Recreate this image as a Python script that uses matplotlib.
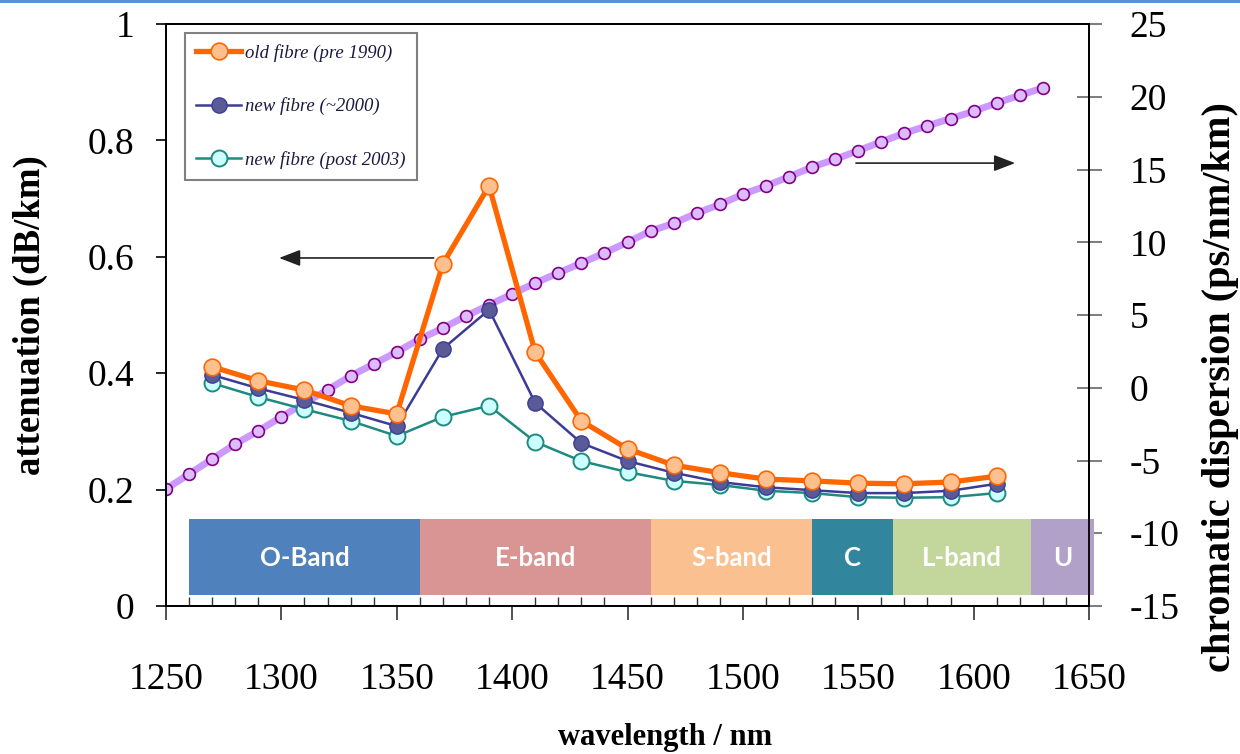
import matplotlib
matplotlib.use('Agg')
import matplotlib.pyplot as plt
from matplotlib.patches import Rectangle
from matplotlib.ticker import MultipleLocator

plt.rcParams['axes.unicode_minus'] = False

# attenuation data (dB/km), every 20 nm
att_wl = [1270, 1290, 1310, 1330, 1350, 1370, 1390, 1410, 1430,
          1450, 1470, 1490, 1510, 1530, 1550, 1570, 1590, 1610]
old_fibre = [0.411, 0.387, 0.371, 0.344, 0.330, 0.588, 0.722, 0.436, 0.318,
             0.270, 0.242, 0.229, 0.218, 0.215, 0.211, 0.210, 0.213, 0.223]
new_fibre_2000 = [0.397, 0.374, 0.354, 0.332, 0.309, 0.442, 0.509, 0.349, 0.280,
                  0.249, 0.229, 0.213, 0.204, 0.199, 0.194, 0.194, 0.198, 0.210]
new_fibre_2003 = [0.383, 0.359, 0.338, 0.318, 0.292, 0.325, 0.344, 0.282, 0.249,
                  0.230, 0.215, 0.208, 0.198, 0.194, 0.187, 0.186, 0.187, 0.194]

# chromatic dispersion (ps/nm/km), every 10 nm
disp_wl = [1250, 1260, 1270, 1280, 1290, 1300, 1310, 1320, 1330, 1340,
           1350, 1360, 1370, 1380, 1390, 1400, 1410, 1420, 1430, 1440,
           1450, 1460, 1470, 1480, 1490, 1500, 1510, 1520, 1530, 1540,
           1550, 1560, 1570, 1580, 1590, 1600, 1610, 1620, 1630]
dispersion = [-6.96, -5.93, -4.90, -3.87, -2.97, -2.00, -1.05, -0.15, 0.81, 1.63,
              2.46, 3.35, 4.10, 4.93, 5.69, 6.44, 7.20, 7.89, 8.57, 9.26,
              10.00, 10.77, 11.30, 12.00, 12.60, 13.30, 13.87, 14.50, 15.17, 15.70,
              16.30, 16.90, 17.50, 18.00, 18.50, 19.00, 19.57, 20.10, 20.60]

# telecom bands
band_names = ['O-Band', 'E-band', 'S-band', 'C', 'L-band', 'U']
band_start = [1260, 1360, 1460, 1530, 1565, 1625]
band_end = [1360, 1460, 1530, 1565, 1625, 1652]
band_colors = ['#4f81bd', '#d99594', '#fac090', '#31859c', '#c3d69b', '#b1a0c7']

serif = 'Liberation Serif'

fig = plt.figure(figsize=(12.4, 7.54), dpi=100)
ax = fig.add_axes([166 / 1240, 1 - 606 / 754, (1089 - 166) / 1240, (606 - 24) / 754])
ax2 = ax.twinx()
ax.set_zorder(ax2.get_zorder() + 1)
ax.patch.set_visible(False)

# dispersion on right axis (drawn behind)
ax2.plot(disp_wl, dispersion, color='#cc99ff', linewidth=5,
         marker='o', markersize=8.5, markerfacecolor='#dcbcff',
         markeredgecolor='#800080', markeredgewidth=1.2)

# attenuation series
ax.plot(att_wl, old_fibre, color='#ff6600', linewidth=3.8, marker='o',
        markersize=12, markerfacecolor='#ffc090', markeredgecolor='#ff6600',
        markeredgewidth=1.2, label='old fibre (pre 1990)', zorder=5)
ax.plot(att_wl, new_fibre_2000, color='#3c3c96', linewidth=1.8, marker='o',
        markersize=11, markerfacecolor='#5a5a96', markeredgecolor='#3c3c96',
        markeredgewidth=1.0, label='new fibre (~2000)', zorder=4)
ax.plot(att_wl, new_fibre_2003, color='#1e8a80', linewidth=1.8, marker='o',
        markersize=11.5, markerfacecolor='#ccffff', markeredgecolor='#1e8a80',
        markeredgewidth=1.4, label='new fibre (post 2003)', zorder=3)

# band bar
for name, s, e, c in zip(band_names, band_start, band_end, band_colors):
    ax.add_patch(Rectangle((s, 0.019), e - s, 0.131, facecolor=c,
                           edgecolor='none', zorder=2, clip_on=False))
    ax.text((s + e) / 2, 0.082, name, ha='center', va='center', color='white',
            fontsize=18.5, fontweight='bold', family='Lato', zorder=3)

# arrows
arrow_style = '-|>,head_length=1.3,head_width=0.5'
ax.annotate('', xy=(1299, 0.598), xytext=(1366, 0.598),
            arrowprops=dict(arrowstyle=arrow_style, color='#222222', lw=1.2,
                            shrinkA=0, shrinkB=0))
ax.annotate('', xy=(1618, 0.761), xytext=(1549, 0.761),
            arrowprops=dict(arrowstyle=arrow_style, color='#222222', lw=1.2,
                            shrinkA=0, shrinkB=0))

ax.set_xlim(1250, 1650)
ax.set_ylim(0, 1)
ax2.set_ylim(-15, 25)

ax.xaxis.set_major_locator(MultipleLocator(50))
ax.xaxis.set_minor_locator(MultipleLocator(10))
ax2.yaxis.set_major_locator(MultipleLocator(5))
ax.set_yticks([0, 0.2, 0.4, 0.6, 0.8, 1])
ax.set_yticklabels(['0', '0.2', '0.4', '0.6', '0.8', '1'])

ax.tick_params(axis='x', which='major', direction='out', length=10, width=1.2,
               pad=31, labelsize=27, colors='#333333', labelcolor='black')
ax.tick_params(axis='x', which='minor', direction='in', length=6.5, width=1.0,
               colors='#333333')
ax.tick_params(axis='y', direction='out', length=7, width=1.2, pad=16,
               labelsize=27)
ax2.tick_params(axis='y', direction='inout', length=18, width=1.2, pad=20,
                labelsize=27, colors='#666666', labelcolor='black')

for lab in ax.get_xticklabels() + ax.get_yticklabels() + ax2.get_yticklabels():
    lab.set_family(serif)

for sp in ax.spines.values():
    sp.set_linewidth(1.3)
for sp in ax2.spines.values():
    sp.set_linewidth(1.3)

ax.set_ylabel('attenuation (dB/km)', family=serif, fontweight='bold',
              fontsize=26.5, labelpad=28)
ax2.set_ylabel('chromatic dispersion (ps/nm/km)', family=serif, fontweight='bold',
               fontsize=29, rotation=90)
ax2.yaxis.set_label_coords(1.122, 0.376)
fig.text(665 / 1240, 1 - 738 / 754, 'wavelength / nm', family=serif,
         fontweight='bold', fontsize=22, ha='center', va='center')

leg = ax.legend(loc='upper left', bbox_to_anchor=(0.0206, 0.985),
                prop={'family': serif, 'style': 'italic', 'size': 13.5},
                labelspacing=1.9, handlelength=2.4, handletextpad=0.2,
                borderpad=0.6, fancybox=False, framealpha=1,
                edgecolor='#808080', borderaxespad=0)
leg.get_frame().set_linewidth(1.5)
for t in leg.get_texts():
    t.set_color('#1a1a40')

# thin blue rule along the top edge
fig.patches.append(Rectangle((0, 1 - 3 / 754), 1, 3 / 754, transform=fig.transFigure,
                             facecolor='#5b8fd0', edgecolor='none'))

fig.savefig('out.png', dpi=100)
